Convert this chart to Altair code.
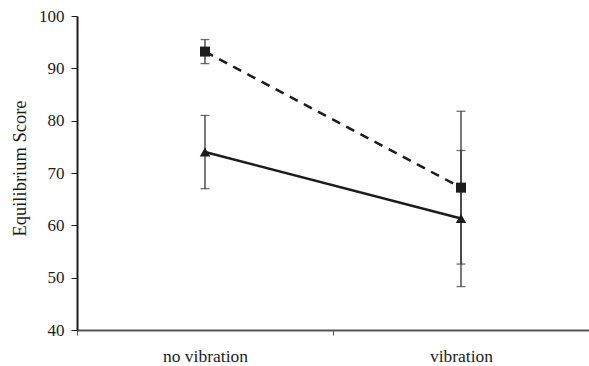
import altair as alt
import pandas as pd

# Mean equilibrium score (with error bar half-widths) per condition
conditions = ["no vibration", "vibration"]
square_mean = [93.2, 67.2]
square_err = [2.3, 14.6]
triangle_mean = [74.0, 61.3]
triangle_err = [7.0, 13.0]

rows = []
for name, means, errs in [("square", square_mean, square_err),
                          ("triangle", triangle_mean, triangle_err)]:
    for c, m, e in zip(conditions, means, errs):
        rows.append(dict(series=name, condition=c, mean=m, lo=m - e, hi=m + e))
df = pd.DataFrame(rows)

FONT = "'Liberation Serif', 'Times New Roman', Times, 'DejaVu Serif', serif"
INK = "#1c1c1c"

x = alt.X(
    "condition:N",
    scale=alt.Scale(type="band", domain=conditions, paddingInner=0, paddingOuter=0),
    axis=alt.Axis(
        title=None, labelAngle=0, tickBand="extent", labelFont=FONT,
        labelFontSize=17.5, labelColor=INK, labelPadding=12, tickSize=5,
        tickColor="#555555", domainColor="#555555", domainWidth=2, grid=False,
    ),
)
y_scale = alt.Scale(domain=[40, 100], nice=False, zero=False)
y = alt.Y(
    "mean:Q", scale=y_scale,
    axis=alt.Axis(
        title="Equilibrium Score", values=[40, 50, 60, 70, 80, 90, 100],
        labelFont=FONT, labelFontSize=17, labelColor=INK, labelPadding=7,
        tickSize=6, tickColor=INK, domainColor=INK, domainWidth=2, grid=False,
        titleFont=FONT, titleFontSize=18.5, titleFontWeight="normal",
        titleColor=INK, titlePadding=9, titleY=152,
    ),
)

base = alt.Chart(df)

err_rule = base.mark_rule(color="#333333", strokeWidth=1.3).encode(
    x=x, y=alt.Y("lo:Q", scale=y_scale), y2="hi:Q"
)
cap_lo = base.mark_tick(color="#333333", thickness=1.3, size=9, orient="horizontal").encode(
    x=x, y=alt.Y("lo:Q", scale=y_scale)
)
cap_hi = base.mark_tick(color="#333333", thickness=1.3, size=9, orient="horizontal").encode(
    x=x, y=alt.Y("hi:Q", scale=y_scale)
)

sq = base.transform_filter(alt.datum.series == "square")
tri = base.transform_filter(alt.datum.series == "triangle")

sq_line = sq.mark_line(color=INK, strokeWidth=2.5, strokeDash=[9, 7]).encode(x=x, y=y)
tri_line = tri.mark_line(color=INK, strokeWidth=2.5).encode(x=x, y=y)
sq_pts = sq.mark_point(shape="square", filled=True, color=INK, size=100, opacity=1).encode(x=x, y=y)
tri_pts = tri.mark_point(shape="triangle-up", filled=True, color=INK, size=110, opacity=1).encode(x=x, y=y)

chart = (
    alt.layer(err_rule, cap_lo, cap_hi, sq_line, tri_line, sq_pts, tri_pts)
    .properties(
        width=512, height=314,
        autosize=alt.AutoSizeParams(type="none"),
        padding={"left": 77, "top": 16, "right": 0, "bottom": 36},
        background="white",
    )
    .configure_view(stroke=None)
)

chart.save("out.html", embed_options={"renderer": "svg", "actions": False})
